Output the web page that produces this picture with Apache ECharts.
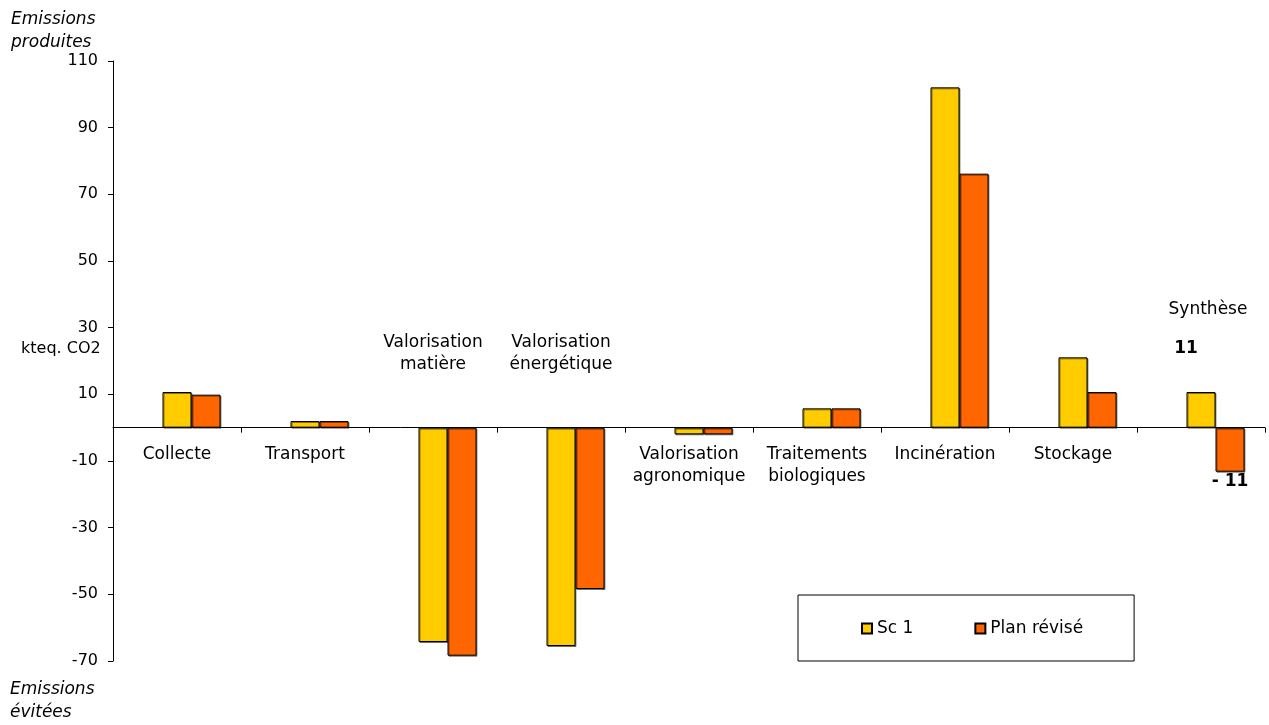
<!DOCTYPE html>
<html>
<head>
<meta charset="utf-8">
<script src="https://cdn.jsdelivr.net/npm/echarts@6/dist/echarts.min.js"></script>
<style>
  html, body { margin: 0; padding: 0; background: #fff; }
  #chart { width: 1269px; height: 725px; }
</style>
</head>
<body>
<div id="chart"></div>
<script>
// categories and values (kteq. CO2)
const categories = ['Collecte', 'Transport', 'Valorisation\nmatière', 'Valorisation\nénergétique',
  'Valorisation\nagronomique', 'Traitements\nbiologiques', 'Incinération', 'Stockage', 'Synthèse'];
const sc1 = [10.7, 2.0, -64.3, -65.5, -2.0, 5.8, 102.1, 21.1, 10.7];
const planRevise = [9.9, 2.0, -68.4, -48.4, -2.0, 5.8, 76.2, 10.7, -13.2];
const syntheseLabels = ['11', '- 11'];

const FONT = 'DejaVu Sans';
const YELLOW = '#FFCC00';
const ORANGE = '#FF6600';

// where each category name sits relative to the zero line
const nameAbove = { 2: 52, 3: 52, 8: 107 };

const barStyle = (color) => ({
  color: color,
  borderColor: '#000',
  borderWidth: 1,
  shadowColor: 'rgba(0,0,0,0.45)',
  shadowOffsetX: 1,
  shadowOffsetY: 1,
  shadowBlur: 0
});

const last = categories.length - 1;

const chart = echarts.init(document.getElementById('chart'));
chart.setOption({
  backgroundColor: '#fff',
  animation: false,
  textStyle: { fontFamily: FONT, color: '#000' },
  grid: { left: 113, right: 4, top: 61, bottom: 64 },
  legend: {
    data: ['Sc 1', 'Plan révisé'],
    left: 798,
    top: 595,
    padding: [25, 51, 24, 63],
    itemGap: 61,
    itemWidth: 10,
    itemHeight: 10,
    icon: 'rect',
    borderColor: '#000',
    borderWidth: 1,
    textStyle: { fontFamily: FONT, fontSize: 17, color: '#000' }
  },
  xAxis: {
    type: 'category',
    data: categories,
    axisLine: { onZero: true, lineStyle: { color: '#000', width: 1 } },
    axisTick: { show: true, length: 5, lineStyle: { color: '#000' } },
    axisLabel: { show: false },
    splitLine: { show: false }
  },
  yAxis: {
    type: 'value',
    min: -70,
    max: 110,
    interval: 20,
    axisLine: { show: true, lineStyle: { color: '#000', width: 1 } },
    axisTick: { show: true, length: 5, lineStyle: { color: '#000' } },
    axisLabel: { fontFamily: FONT, fontSize: 16, color: '#000', margin: 15 },
    splitLine: { show: false }
  },
  graphic: [
    { type: 'text', left: 11, top: 8, style: { text: 'Emissions\nproduites', font: 'italic 17px "DejaVu Sans"', fill: '#000', lineHeight: 23 } },
    { type: 'text', left: 10, top: 678, style: { text: 'Emissions\névitées', font: 'italic 17px "DejaVu Sans"', fill: '#000', lineHeight: 23 } },
    { type: 'text', left: 21, top: 341, style: { text: 'kteq. CO2', font: '16px "DejaVu Sans"', fill: '#000' } }
  ],
  series: [
    {
      // empty slot that Excel keeps in front of each pair
      name: '_',
      type: 'bar',
      data: categories.map(() => null),
      barWidth: 29,
      barGap: '0%'
    },
    {
      name: 'Sc 1',
      type: 'bar',
      barWidth: 29,
      barGap: '0%',
      itemStyle: barStyle(YELLOW),
      data: sc1.map((v, i) => i === last ? {
        value: v,
        label: {
          show: true, position: 'top', distance: 35, offset: [-15, 0],
          formatter: syntheseLabels[0], fontFamily: FONT, fontWeight: 'bold', fontSize: 17, color: '#000'
        }
      } : v)
    },
    {
      name: 'Plan révisé',
      type: 'bar',
      barWidth: 29,
      barGap: '0%',
      itemStyle: barStyle(ORANGE),
      data: planRevise.map((v, i) => i === last ? {
        value: v,
        label: {
          show: true, position: 'bottom', distance: 1,
          formatter: syntheseLabels[1], fontFamily: FONT, fontWeight: 'bold', fontSize: 17, color: '#000'
        }
      } : v)
    },
    {
      // category names, placed around the zero line
      name: 'names',
      type: 'scatter',
      symbolSize: 0,
      silent: true,
      z: 10,
      itemStyle: { opacity: 1 },
      data: categories.map((c, i) => ({
        value: [c, 0],
        label: {
          show: true,
          position: nameAbove[i] ? 'top' : 'bottom',
          distance: nameAbove[i] || 16,
          offset: i === last ? [7, 0] : [0, 0],
          formatter: c,
          align: 'center',
          fontFamily: FONT,
          fontSize: 17,
          lineHeight: 22,
          color: '#000',
          opacity: 1
        }
      }))
    }
  ]
});
</script>
</body>
</html>
